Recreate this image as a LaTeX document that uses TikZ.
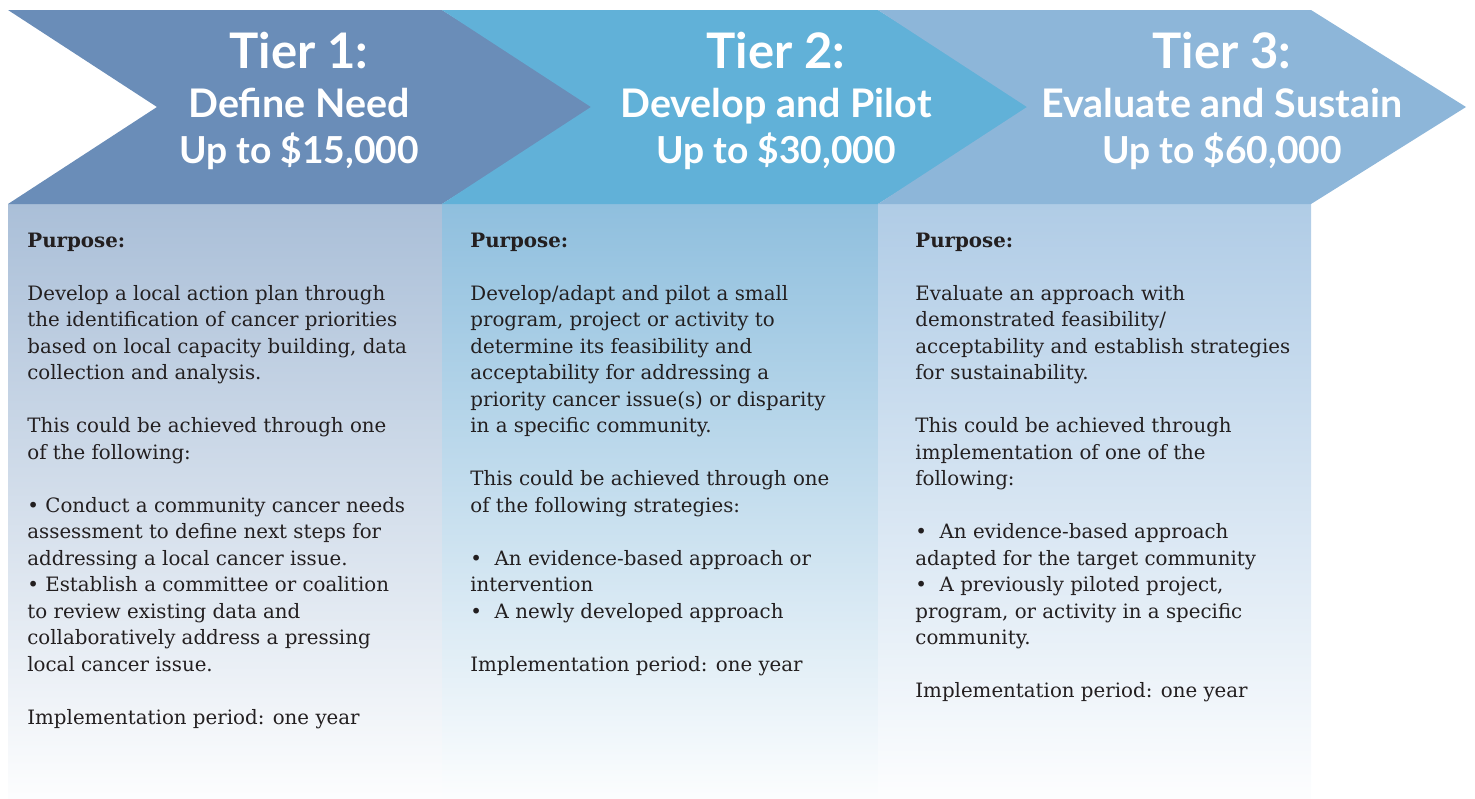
\documentclass[tikz,border=0pt]{standalone}
\usepackage{fontspec}
\usepackage{tikz}
\usetikzlibrary{positioning}
\newfontfamily\headfont{Lato}
\newfontfamily\bodyfont{DejaVu Serif}
\definecolor{tierA}{HTML}{6A8DB8}
\definecolor{tierB}{HTML}{61B1D8}
\definecolor{tierC}{HTML}{8DB6D9}
\definecolor{boxA}{HTML}{AABFD8}
\definecolor{boxB}{HTML}{8FBFDE}
\definecolor{boxC}{HTML}{B0CCE6}
\definecolor{ink}{HTML}{231F20}
\newcommand{\skipline}{\\[\baselineskip]}

\begin{document}
\begin{tikzpicture}[x=0.5pt,y=-0.5pt,every node/.style={inner sep=0pt},
  tier/.style={anchor=base,text=white,font=\headfont\bfseries\fontsize{24.5}{28}\selectfont},
  head/.style={anchor=base,text=white,font=\headfont\bfseries\fontsize{19.7}{22}\selectfont},
  amount/.style={head,font=\headfont\bfseries\fontsize{18.6}{22}\selectfont},
  body/.style={anchor=base west,text=ink,font=\bodyfont\fontsize{9.9}{13.25}\selectfont}]
\useasboundingbox (0,0) rectangle (1475,798);

% columns
\shade[top color=boxA,bottom color=white!97!boxA] (8,204) rectangle (442,798);
\shade[top color=boxB,bottom color=white!97!boxB] (442,204) rectangle (878,798);
\shade[top color=boxC,bottom color=white!97!boxC] (878,204) rectangle (1311,798);

% chevrons
\foreach \l/\r/\c in {8/442/tierA,442/878/tierB,878/1311/tierC}
  \fill[\c] (\l,10) -- (\r,10) -- ++(155,97) -- (\r,204) -- (\l,204) -- ++(149,-97) -- cycle;

% headings
\foreach \i/\x/\name/\amt in {1/299/Define Need/15,2/776/Develop and Pilot/30,3/1222/Evaluate and Sustain/60}{
  \node[tier] (T\i) at (\x,68) {Tier \i:};
  \node[head] (N\i) at (\x,117) {\name};
  \node[amount] (U\i) at (\x,163) {Up to \$\amt,000};
}

% texts
\node[body] (B1) at (27,247) {\begin{minipage}[t]{250pt}\raggedright
\textbf{Purpose:}\skipline
Develop a local action plan through\\
the identification of cancer priorities\\
based on local capacity building, data\\
collection and analysis.\skipline
This could be achieved through one\\
of the following:\skipline
• Conduct a community cancer needs\\
assessment to define next steps for\\
addressing a local cancer issue.\\
• Establish a committee or coalition\\
to review existing data and\\
collaboratively address a pressing\\
local cancer issue.\skipline
Implementation period: one year
\end{minipage}};

\node[body] (B2) at (470,247) {\begin{minipage}[t]{250pt}\raggedright
\textbf{Purpose:}\skipline
Develop/adapt and pilot a small\\
program, project or activity to\\
determine its feasibility and\\
acceptability for addressing a\\
priority cancer issue(s) or disparity\\
in a specific community.\skipline
This could be achieved through one\\
of the following strategies:\skipline
•\ \ An evidence-based approach or\\
intervention\\
•\ \ A newly developed approach\skipline
Implementation period: one year
\end{minipage}};

\node[body] (B3) at (915,247) {\begin{minipage}[t]{250pt}\raggedright
\textbf{Purpose:}\skipline
Evaluate an approach with\\
demonstrated feasibility/\\
acceptability and establish strategies\\
for sustainability.\skipline
This could be achieved through\\
implementation of one of the\\
following:\skipline
•\ \ An evidence-based approach\\
adapted for the target community\\
•\ \ A previously piloted project,\\
program, or activity in a specific\\
community.\skipline
Implementation period: one year
\end{minipage}};
\end{tikzpicture}
\end{document}
